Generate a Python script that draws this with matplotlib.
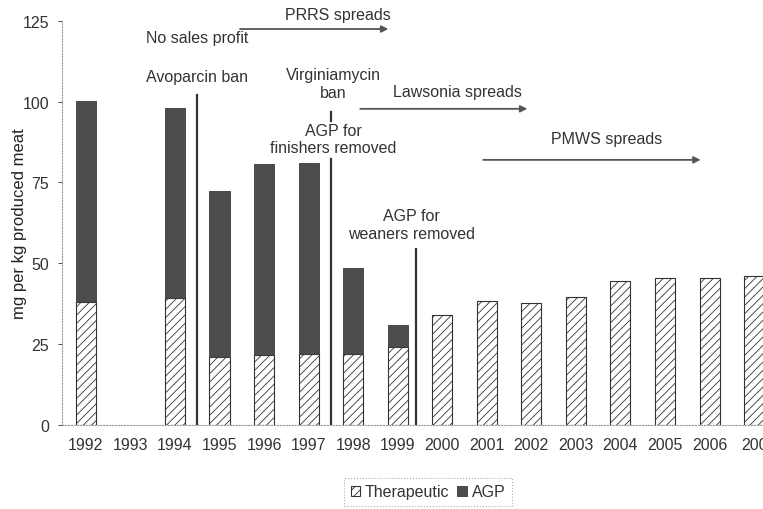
import numpy as np
import matplotlib
matplotlib.use("Agg")
import matplotlib.pyplot as plt

plt.rcParams['font.family'] = ['Liberation Sans', 'DejaVu Sans']
plt.rcParams['hatch.color'] = '#b8b8b8'
plt.rcParams['hatch.linewidth'] = 0.6

years = np.arange(1992, 2008)
therapeutic = [38.0, 0, 39.3, 21.1, 21.5, 21.8, 21.8, 24.0,
               34.0, 38.3, 37.8, 39.6, 44.4, 45.4, 45.3, 46.1]
total = [100.3, 0, 98.0, 72.5, 80.8, 81.0, 48.5, 31.0,
         34.0, 38.3, 37.8, 39.6, 44.4, 45.4, 45.3, 46.1]
agp = [t - th for t, th in zip(total, therapeutic)]
year_labels = [str(y) for y in years[:-1]] + ['200']

fig = plt.figure(figsize=(7.63, 5.10), dpi=100)
ax = fig.add_axes([0.081, 0.165, 0.919, 0.792])

w = 0.45
mask = [t > 0 for t in total]
xs = years[mask]
ax.bar(xs, np.array(therapeutic)[mask], w, facecolor='white', edgecolor='#333333',
       hatch='////', linewidth=0.8, label='Therapeutic')
agp_m = np.array(agp)[mask]
th_m = np.array(therapeutic)[mask]
sel = agp_m > 0
ax.bar(xs[sel], agp_m[sel], w, bottom=th_m[sel], facecolor='#4d4d4d',
       edgecolor='#3a3a3a', linewidth=0.6, label='AGP')

ax.set_xlim(1991.46, 2007.2)
ax.set_ylim(0, 125)
ax.set_yticks([0, 25, 50, 75, 100, 125])
ax.set_xticks(years)
ax.set_xticklabels(year_labels)
ax.tick_params(axis='both', labelsize=11.5, colors='#333333', length=3, width=0.6)
ax.tick_params(axis='x', length=0, pad=9)
ax.tick_params(axis='y', pad=6)
for s in ['top', 'right']:
    ax.spines[s].set_visible(False)
for s in ['left', 'bottom']:
    ax.spines[s].set_linestyle(':')
    ax.spines[s].set_color('#999999')
    ax.spines[s].set_linewidth(0.8)
ax.set_ylabel('mg per kg produced meat', fontsize=12, color='#222222')
ax.yaxis.set_label_coords(-0.049, 0.5)

# policy lines
lc = '#333333'
ax.plot([1994.5, 1994.5], [0, 102], color=lc, lw=1.6)
ax.plot([1997.5, 1997.5], [0, 82.3], color=lc, lw=1.6)
ax.plot([1997.5, 1997.5], [94, 96.9], color=lc, lw=1.6)
ax.plot([1999.4, 1999.4], [0, 54.5], color=lc, lw=1.6)

fs = 11.5
tc = '#333333'
ax.text(1994.5, 120, 'No sales profit', ha='center', va='center', fontsize=fs, color=tc)
ax.text(1994.5, 107.7, 'Avoparcin ban', ha='center', va='center', fontsize=fs, color=tc)
ax.text(1997.55, 105.6, 'Virginiamycin\nban', ha='center', va='center', fontsize=fs,
        color=tc, linespacing=1.2)
ax.text(1997.55, 88.5, 'AGP for\nfinishers removed', ha='center', va='center', fontsize=fs,
        color=tc, linespacing=1.2)
ax.text(1999.3, 62, 'AGP for\nweaners removed', ha='center', va='center', fontsize=fs,
        color=tc, linespacing=1.2)

arrows = [
    ('PRRS spreads', 1995.46, 1998.79, 122.5, 127, 1997.66),
    ('Lawsonia spreads', 1998.16, 2001.91, 97.8, 103.2, 2000.34),
    ('PMWS spreads', 2000.92, 2005.8, 82, 88.7, 2003.7),
]
for label, x0, x1, y, ty, tx in arrows:
    ax.annotate('', xy=(x1, y), xytext=(x0, y),
                arrowprops=dict(arrowstyle='-|>', color='#555555', lw=1.3,
                                mutation_scale=10, shrinkA=0, shrinkB=0),
                annotation_clip=False)
    ax.text(tx, ty, label, ha='center', va='center', fontsize=fs, color=tc, clip_on=False)

leg = fig.legend(loc='center', bbox_to_anchor=(428 / 763, 1 - 493 / 510), ncol=2,
                 fontsize=11.5, frameon=True, fancybox=False, handlelength=0.6,
                 handleheight=0.6, handletextpad=0.3, columnspacing=0.5,
                 borderpad=0.4)
leg.get_frame().set_linestyle(':')
leg.get_frame().set_edgecolor('#999999')
leg.get_frame().set_linewidth(0.8)
for t in leg.get_texts():
    t.set_color(tc)

fig.savefig('out.png', dpi=100)
